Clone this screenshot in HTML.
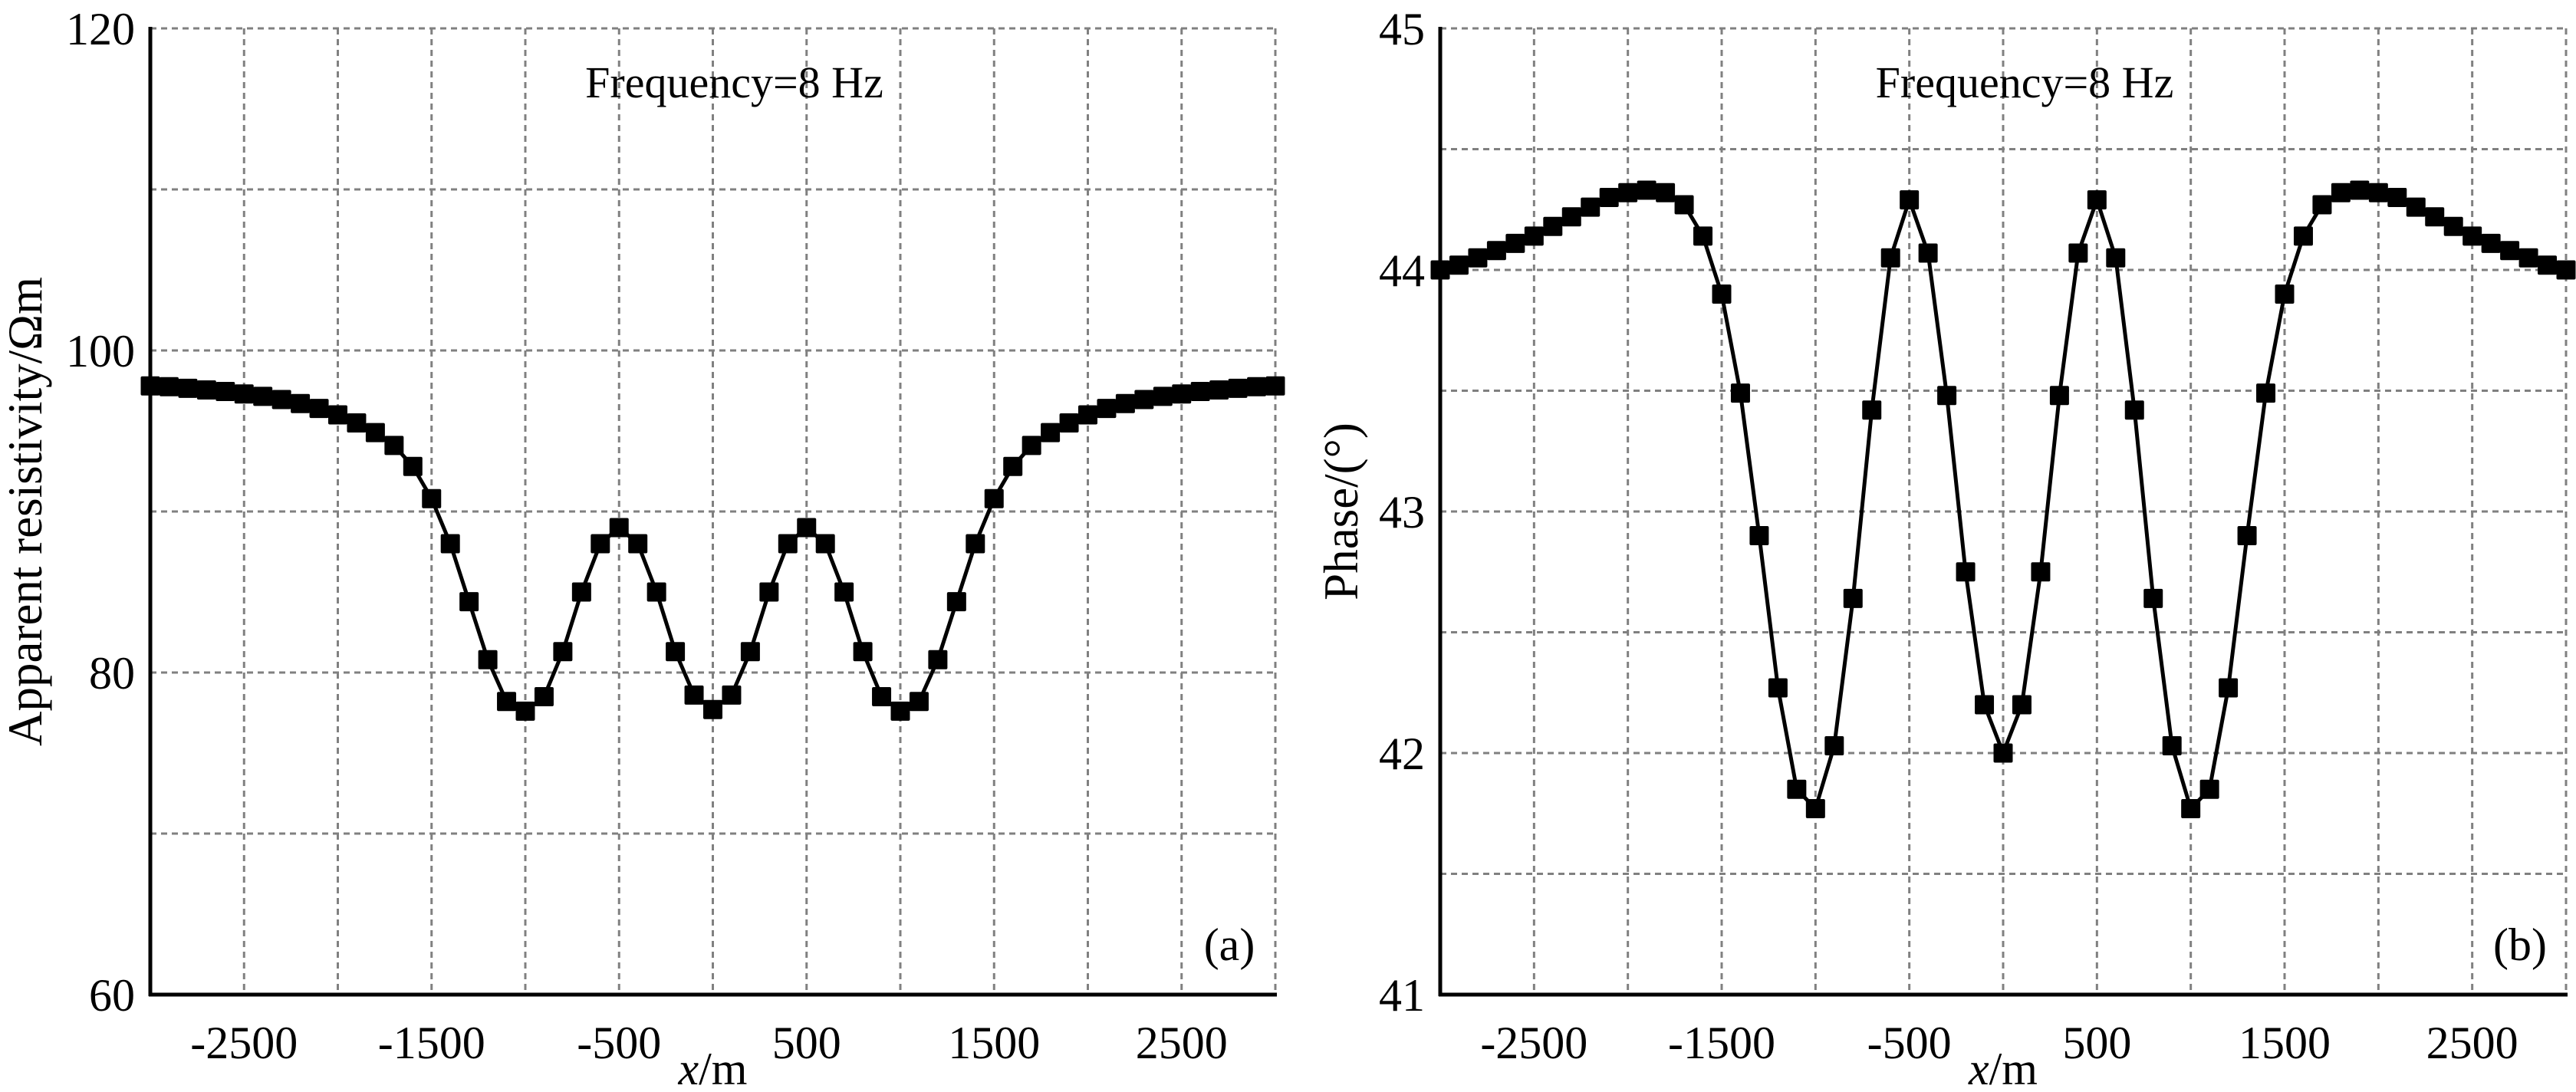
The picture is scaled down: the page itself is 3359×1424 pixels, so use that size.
<!DOCTYPE html>
<html><head><meta charset="utf-8"><style>
html,body{margin:0;padding:0;background:#fff;}
svg{display:block;font-family:"Liberation Serif",serif;}
</style></head><body>
<svg id="s" width="3359" height="1424" xmlns="http://www.w3.org/2000/svg"></svg>
<script>
const NS="http://www.w3.org/2000/svg";
const s=document.getElementById('s');
function el(t,a,txt){const e=document.createElementNS(NS,t);for(const k in a)e.setAttribute(k,a[k]);if(txt!==undefined)e.textContent=txt;s.appendChild(e);return e;}
const T=37,B=1297;
const rhoHalf=[97.8,97.75,97.65,97.55,97.45,97.3,97.15,96.95,96.7,96.4,96.0,95.5,94.9,94.1,92.8,90.8,88.0,84.4,80.8,78.2,77.6,78.5,81.3,85.0,88.0,89.0,88.0,85.0,81.3,78.6,77.7];
const phHalf=[44.0,44.02,44.05,44.08,44.11,44.14,44.18,44.22,44.26,44.3,44.32,44.33,44.32,44.27,44.14,43.9,43.49,42.9,42.27,41.85,41.77,42.03,42.64,43.42,44.05,44.29,44.07,43.48,42.75,42.2,42.0];
function full(h){const a=h.slice();for(let i=h.length-2;i>=0;i--)a.push(h[i]);return a;}
function plot(L,R,ymin,ymax,ystep,ylabels,data,ylab,ylabX,tag){
  const W=R-L;
  const fx=x=>L+(x+3000)/6000*W, fy=y=>B-(y-ymin)/(ymax-ymin)*(B-T);
  for(let x=-2500;x<=3000;x+=500){el('line',{x1:fx(x),x2:fx(x),y1:T,y2:B,stroke:'#808080','stroke-width':3,'stroke-dasharray':'8 6'});}
  for(let y=ymin+ystep;y<=ymax+1e-9;y+=ystep){el('line',{x1:L,x2:R,y1:fy(y),y2:fy(y),stroke:'#808080','stroke-width':3,'stroke-dasharray':'8 6'});}
  el('line',{x1:L,x2:L,y1:T-2,y2:B+2,stroke:'#000','stroke-width':5});
  el('line',{x1:L-2,x2:R+2,y1:B,y2:B,stroke:'#000','stroke-width':5});
  ylabels.forEach(([v,t])=>el('text',{x:L-20,y:fy(v)+21,'font-size':60,'text-anchor':'end'},t));
  [-2500,-1500,-500,500,1500,2500].forEach(x=>el('text',{x:fx(x),y:1380,'font-size':60,'text-anchor':'middle'},String(x)));
  const xl=el('text',{x:fx(0),y:1414,'font-size':60,'text-anchor':'middle'});
  xl.innerHTML='<tspan font-style="italic">x</tspan>/m';
  el('text',{x:ylabX,y:(T+B)/2,'font-size':63,'text-anchor':'middle',transform:`rotate(-90 ${ylabX} ${(T+B)/2})`},ylab);
  el('text',{x:fx(0)+28,y:127,'font-size':58,'text-anchor':'middle'},'Frequency=8 Hz');
  el('text',{x:R-60,y:1252,'font-size':60,'text-anchor':'middle'},tag);
  let pts=data.map((v,i)=>[fx(-3000+100*i),fy(v)]);
  el('polyline',{points:pts.map(p=>p.join(',')).join(' '),fill:'none',stroke:'#000','stroke-width':5});
  pts.forEach(p=>el('rect',{x:p[0]-12.5,y:p[1]-12.5,width:25,height:25,fill:'#000',rx:2}));
}
plot(196,1663,60,120,10,[[60,'60'],[80,'80'],[100,'100'],[120,'120']],full(rhoHalf),'Apparent resistivity/Ωm',54,'(a)');
plot(1878,3346,41,45,0.5,[[41,'41'],[42,'42'],[43,'43'],[44,'44'],[45,'45']],full(phHalf),'Phase/(°)',1770,'(b)');
</script>
</body></html>
